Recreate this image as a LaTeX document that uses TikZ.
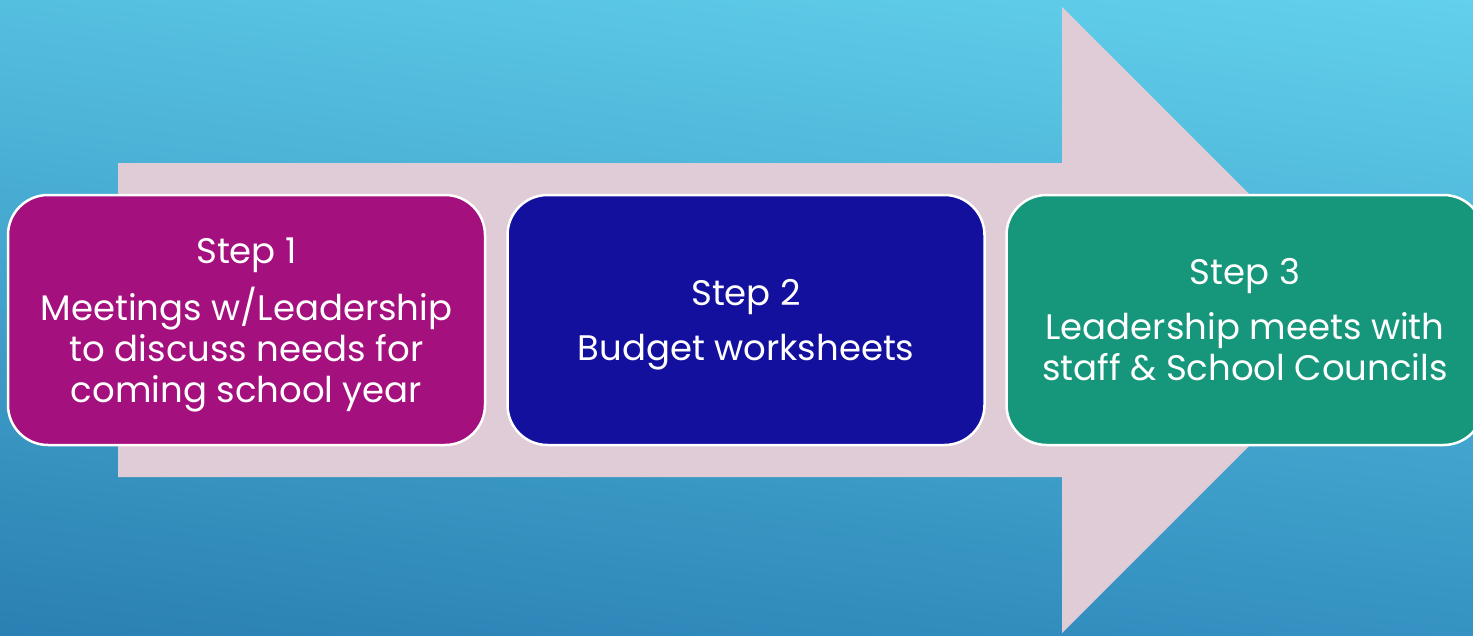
\documentclass[tikz,border=0pt]{standalone}
\usepackage{fontspec}
\setmainfont{Poppins}
\usetikzlibrary{shapes.misc,shadings}
\definecolor{bgTL}{HTML}{55BFE0}
\definecolor{bgTR}{HTML}{62D1EC}
\definecolor{bgBL}{HTML}{2A80B2}
\definecolor{bgBR}{HTML}{3592C2}
\definecolor{arrowpink}{HTML}{E0CCD6}
\definecolor{stepA}{HTML}{A4107E}
\definecolor{stepB}{HTML}{14109E}
\definecolor{stepC}{HTML}{16967A}
\tikzset{
  stepbox/.style={draw=white, line width=2.5pt, rounded corners=40pt,
    minimum width=477pt, minimum height=250pt, inner sep=0pt},
  steptext/.style={text=white, align=center, inner sep=0pt,
    font=\fontsize{35.5}{41}\selectfont},
}
\begin{document}
\begin{tikzpicture}[x=1pt,y=-1pt]
\useasboundingbox (0,0) rectangle (1473,635);
\shade[upper left=bgTL, upper right=bgTR, lower left=bgBL, lower right=bgBR]
  (0,0) rectangle (1473,635);
\fill[arrowpink] (118,163) -- (1062,163) -- (1062,7) -- (1375,320)
  -- (1062,633) -- (1062,477) -- (118,477) -- cycle;
\node[stepbox, fill=stepA] (s1) at (246.5,320) {};
\node[stepbox, fill=stepB] (s2) at (746,320) {};
\node[stepbox, fill=stepC] (s3) at (1245,320) {};
\node[steptext] (t1) at ([yshift=-5pt]s1.center)
  {Step 1\\[14pt]Meetings w/Leadership\\to discuss needs for\\coming school year};
\node[steptext] (t2) at ([yshift=-5pt]s2.center)
  {Step 2\\[14pt]Budget worksheets};
\node[steptext] (t3) at (s3.center)
  {Step 3\\[14pt]Leadership meets with\\staff \& School Councils};
\end{tikzpicture}
\end{document}
